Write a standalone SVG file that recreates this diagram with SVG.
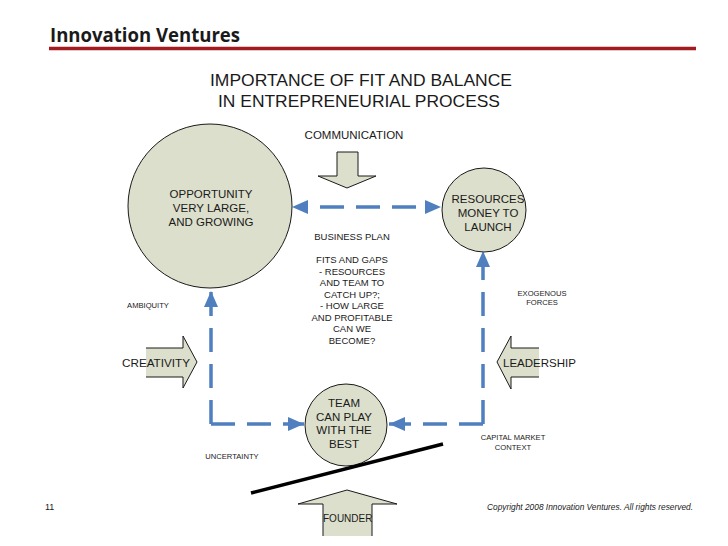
<svg xmlns="http://www.w3.org/2000/svg" width="728" height="546" viewBox="0 0 728 546">
<style>
text{font-family:"Liberation Sans",Arial,sans-serif;fill:#1a1a1a}
.node{fill:#dcdfcb;stroke:#1a1a1a;stroke-width:1}
.barrow{fill:#dcdfcb;stroke:#1a1a1a;stroke-width:1}
.conn{fill:none;stroke:#4f7fbf;stroke-width:3.5;stroke-dasharray:24 12}
.c11{font-size:11.5px;text-anchor:middle}
.bp{font-size:9.5px;text-anchor:middle}
.sm{font-size:7.6px;text-anchor:middle}
.lab{font-size:11.6px}
</style>
<defs>
<marker id="ah" markerUnits="userSpaceOnUse" viewBox="0 0 16 14" refX="16" refY="7" markerWidth="16" markerHeight="14" orient="auto-start-reverse">
<path d="M0,0 L16,7 L0,14 Z" fill="#4f7fbf"/>
</marker>
</defs>
<rect width="728" height="546" fill="#fff"/>
<g id="header">
<text x="50" y="42" style="font-family:'Open Sans','Liberation Sans',sans-serif;font-weight:bold;font-size:19px" textLength="190" lengthAdjust="spacingAndGlyphs">Innovation Ventures</text>
<line x1="49" y1="48.5" x2="696" y2="48.5" stroke="#a11b1f" stroke-width="3.5"/>
</g>
<g id="title">
<text x="210" y="86" style="font-size:17px" textLength="302" lengthAdjust="spacingAndGlyphs">IMPORTANCE OF FIT AND BALANCE</text>
<text x="218" y="107" style="font-size:17px" textLength="282" lengthAdjust="spacingAndGlyphs">IN ENTREPRENEURIAL PROCESS</text>
</g>
<g id="connectors">
<path class="conn" d="M292,207 H441" style="stroke-dasharray:0 28 24 12 24 12 24 28"/>
<path d="M292,207 H441" fill="none" stroke="none" marker-start="url(#ah)" marker-end="url(#ah)"/>
<path class="conn" d="M211,424 V291" marker-end="url(#ah)"/>
<path class="conn" d="M211,424 H304" marker-end="url(#ah)"/>
<path class="conn" d="M483,424 V251" marker-end="url(#ah)"/>
<path class="conn" d="M483,424 H389" marker-end="url(#ah)"/>
</g>
<g id="opportunity">
<circle class="node" cx="210" cy="206" r="82"/>
<text class="c11" x="211" y="198">OPPORTUNITY</text>
<text class="c11" x="211" y="212">VERY LARGE,</text>
<text class="c11" x="211" y="226">AND GROWING</text>
</g>
<g id="resources">
<circle class="node" cx="484" cy="210" r="42"/>
<text class="c11" x="488" y="203">RESOURCES</text>
<text class="c11" x="488" y="217">MONEY TO</text>
<text class="c11" x="488" y="231">LAUNCH</text>
</g>
<g id="team">
<circle class="node" cx="346" cy="425" r="41"/>
<text class="c11" x="344" y="407">TEAM</text>
<text class="c11" x="344" y="420.5">CAN PLAY</text>
<text class="c11" x="344" y="434">WITH THE</text>
<text class="c11" x="344" y="448">BEST</text>
</g>
<g id="business-plan">
<text class="bp" x="352" y="240">BUSINESS PLAN</text>
<text class="bp" x="352" y="263">FITS AND GAPS</text>
<text class="bp" x="352" y="274.5">- RESOURCES</text>
<text class="bp" x="352" y="286">AND TEAM TO</text>
<text class="bp" x="352" y="297.5">CATCH UP?;</text>
<text class="bp" x="352" y="309">- HOW LARGE</text>
<text class="bp" x="352" y="320.5">AND PROFITABLE</text>
<text class="bp" x="352" y="332">CAN WE</text>
<text class="bp" x="352" y="343.5">BECOME?</text>
</g>
<g id="communication">
<text x="354" y="139" style="font-size:11.5px;text-anchor:middle">COMMUNICATION</text>
<path class="barrow" d="M337,152 H358 V176 H376 L347,188 L318,176 H337 Z"/>
</g>
<g id="creativity">
<path d="M146,348 H183 V336 L197,362 L183,388 V377 H146 Z" fill="#dcdfcb"/>
<path d="M146,348 H183 V336 L197,362 L183,388 V377 H146" fill="none" stroke="#1a1a1a" stroke-width="1"/>
<text class="lab" x="122" y="367" textLength="68" lengthAdjust="spacingAndGlyphs">CREATIVITY</text>
</g>
<g id="leadership">
<path d="M539,348 H511 V336 L497,362 L511,389 V377 H539 Z" fill="#dcdfcb"/>
<path d="M539,348 H511 V336 L497,362 L511,389 V377 H539" fill="none" stroke="#1a1a1a" stroke-width="1"/>
<text class="lab" x="503" y="367" textLength="73" lengthAdjust="spacingAndGlyphs">LEADERSHIP</text>
</g>
<g id="founder">
<path d="M323,536 V504 H298 L347,490 L397,504 H372 V536 Z" fill="#dcdfcb"/>
<path d="M323,536 V504 H298 L347,490 L397,504 H372 V536" fill="none" stroke="#1a1a1a" stroke-width="1"/>
<text x="323" y="522" style="font-size:10px">FOUNDER</text>
</g>
<g id="lever">
<line x1="251" y1="493" x2="443" y2="444" stroke="#000" stroke-width="3.5"/>
</g>
<g id="labels">
<text class="sm" x="148" y="308">AMBIQUITY</text>
<text class="sm" x="542" y="296">EXOGENOUS</text>
<text class="sm" x="542" y="305">FORCES</text>
<text class="sm" x="232" y="459">UNCERTAINTY</text>
<text class="sm" x="513" y="440">CAPITAL MARKET</text>
<text class="sm" x="513" y="450">CONTEXT</text>
</g>
<g id="footer">
<text x="45" y="510" style="font-size:9px">11</text>
<text x="487" y="510" style="font-size:8.5px;font-style:italic" textLength="206" lengthAdjust="spacingAndGlyphs">Copyright 2008 Innovation Ventures. All rights reserved.</text>
</g>
</svg>
